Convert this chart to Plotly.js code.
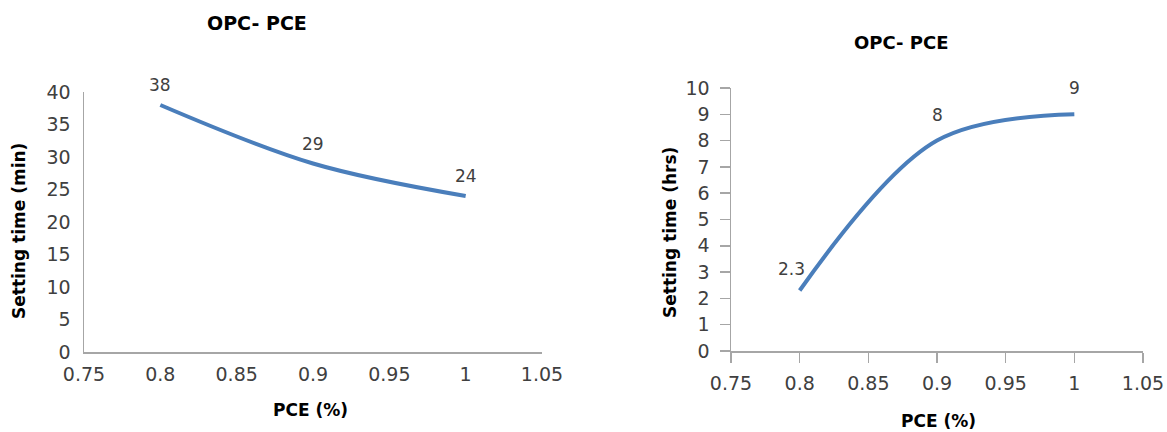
<!DOCTYPE html>
<html>
<head>
<meta charset="utf-8">
<script src="https://cdn.plot.ly/plotly-3.0.1.min.js"></script>
<style>html,body{margin:0;padding:0;background:#fff;}#chart{width:1167px;height:432px;}</style>
</head>
<body>
<div id="chart"></div>
<script>
// Data
const pceLeft = [0.8, 0.9, 1.0];
const settingMin = [38, 29, 24];
const labelsLeft = ["38", "29", "24"];

const pceRight = [0.8, 0.9, 1.0];
const settingHrs = [2.3, 8, 9];
const labelsRight = ["2.3", "8", "9"];

const xTicks = [0.75, 0.8, 0.85, 0.9, 0.95, 1, 1.05];
const xTickText = ["0.75", "0.8", "0.85", "0.9", "0.95", "1", "1.05"];
const yTicksLeft = [0, 5, 10, 15, 20, 25, 30, 35, 40];
const yTicksRight = [0, 1, 2, 3, 4, 5, 6, 7, 8, 9, 10];

const titleText = "OPC- PCE";
const xTitle = "PCE (%)";
const yTitleLeft = "Setting time (min)";
const yTitleRight = "Setting time (hrs)";

const lineColor = "#4a7ebb";
const axisGray = "#a6a6a6";
const tickFont = {family: "DejaVu Sans", size: 19, color: "#404040"};
const labelFont = {family: "DejaVu Sans", size: 17, color: "#404040"};
const boldFont = (s) => ({family: "DejaVu Sans", size: s, color: "#000", weight: "bold"});

const traces = [
  {x: pceLeft, y: settingMin, xaxis: "x", yaxis: "y", mode: "lines",
   line: {color: lineColor, width: 4, shape: "spline", smoothing: 1}, hoverinfo: "skip"},
  {x: pceRight, y: settingHrs, xaxis: "x2", yaxis: "y2", mode: "lines",
   line: {color: lineColor, width: 4, shape: "spline", smoothing: 1}, hoverinfo: "skip"}
];

const annotations = [];
pceLeft.forEach((v, i) => annotations.push({
  x: v, y: settingMin[i], xref: "x", yref: "y", text: labelsLeft[i], showarrow: false,
  xanchor: "center", yanchor: "middle", yshift: 20, font: labelFont
}));
const rightShifts = [[-8, 22], [0, 26], [0, 26]];
pceRight.forEach((v, i) => annotations.push({
  x: v, y: settingHrs[i], xref: "x2", yref: "y2", text: labelsRight[i], showarrow: false,
  xanchor: "center", yanchor: "middle",
  xshift: rightShifts[i][0], yshift: rightShifts[i][1], font: labelFont
}));
const paperText = (px, py, text, font, angle) => ({
  x: px / 1167, y: 1 - py / 432, xref: "paper", yref: "paper", text: text, showarrow: false,
  xanchor: "center", yanchor: "middle", textangle: angle || 0, font: font
});
annotations.push(
  paperText(257, 23, titleText, boldFont(19)),
  paperText(901, 43, titleText, boldFont(18)),
  paperText(310, 410, xTitle, boldFont(17)),
  paperText(938, 421, xTitle, boldFont(17)),
  paperText(19, 231, yTitleLeft, boldFont(17), -90),
  paperText(670, 233, yTitleRight, boldFont(17), -90)
);

const baseAxis = {showgrid: false, zeroline: false, showline: true, linecolor: axisGray, linewidth: 1.5,
  tickfont: tickFont, fixedrange: true};

const layout = {
  width: 1167, height: 432,
  margin: {l: 0, r: 0, t: 0, b: 0},
  paper_bgcolor: "#fff", plot_bgcolor: "#fff",
  showlegend: false,
  xaxis: Object.assign({}, baseAxis, {domain: [84/1167, 542/1167], range: [0.75, 1.05],
    tickvals: xTicks, ticktext: xTickText, ticks: "", ticklabelstandoff: 5, anchor: "y"}),
  yaxis: Object.assign({}, baseAxis, {domain: [1 - 352/432, 1 - 92/432], range: [0, 40],
    tickvals: yTicksLeft, ticks: "", ticklabelstandoff: 8, anchor: "x"}),
  xaxis2: Object.assign({}, baseAxis, {domain: [731/1167, 1143/1167], range: [0.75, 1.05],
    tickvals: xTicks, ticktext: xTickText, ticks: "outside", ticklen: 10, tickcolor: axisGray, tickwidth: 1.5,
    ticklabelstandoff: 5, anchor: "y2"}),
  yaxis2: Object.assign({}, baseAxis, {domain: [1 - 351/432, 1 - 88/432], range: [0, 10],
    tickvals: yTicksRight, ticks: "outside", ticklen: 10, tickcolor: axisGray, tickwidth: 1.5,
    ticklabelstandoff: 6, anchor: "x2"}),
  annotations: annotations
};

Plotly.newPlot("chart", traces, layout, {staticPlot: true, displayModeBar: false});
</script>
</body>
</html>
